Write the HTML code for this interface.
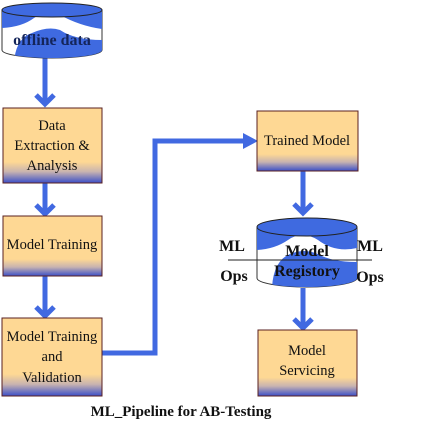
<!DOCTYPE html>
<html><head><style>
html,body{margin:0;padding:0;background:#fff;}
svg{display:block;}
text{font-family:"Liberation Serif",serif;}
</style></head><body>
<svg width="432" height="440" viewBox="0 0 432 440" xmlns="http://www.w3.org/2000/svg">
<defs>
<linearGradient id="bx" x1="0" y1="0" x2="0" y2="1">
<stop offset="0" stop-color="#fed894"/>
<stop offset="0.72" stop-color="#fed894"/>
<stop offset="0.85" stop-color="#c8b3b0"/>
<stop offset="1" stop-color="#3b4fc8"/>
</linearGradient>
<clipPath id="c1"><path d="M2 10 L2 50 A50 8 0 0 0 102 50 L102 10 Z"/></clipPath>
<clipPath id="c2"><path d="M257 228 L257 278 A50 9 0 0 0 357 278 L357 228 Z"/></clipPath>
</defs>
<g fill="none" stroke="#4169e1" stroke-width="5">
<line x1="45" y1="58" x2="45" y2="103"/>
<polyline points="36,95 45,104 54,95"/>
<line x1="45" y1="183" x2="45" y2="213"/>
<polyline points="36,205 45,214 54,205"/>
<line x1="45" y1="276" x2="45" y2="315"/>
<polyline points="36,307 45,316 54,307"/>
<line x1="303" y1="171" x2="303" y2="213"/>
<polyline points="294,204 303,213 312,204"/>
<line x1="303" y1="288" x2="303" y2="328"/>
<polyline points="294,319 303,328 312,319"/>
<polyline points="100,353 155,353 155,141 245,141"/>
</g>
<polygon points="243,133 258,141 243,149" fill="#4169e1"/>
<!-- cylinder 1 -->
<g>
<path d="M2 10 L2 50 A50 8 0 0 0 102 50 L102 10 Z" fill="#fff" stroke="#333" stroke-width="1"/>
<g clip-path="url(#c1)">
<path d="M2 10 L2 28 Q22 27 34 18 Q46 10 60 15 Q80 26 102 29 L102 10 Z" fill="#3f6ae0"/>
<path d="M14 62 Q16 38 32 33 Q48 26 60 30 Q75 40 102 40 L102 62 Z" fill="#3f6ae0"/>
</g>
<ellipse cx="52" cy="10" rx="50" ry="7" fill="#3f6ae0" stroke="#222" stroke-width="1"/>
<text x="52" y="45" text-anchor="middle" font-size="16" font-weight="bold" fill="#14255a">offline data</text>
</g>
<!-- boxes -->
<rect x="3" y="108" width="99" height="75" fill="url(#bx)" stroke="#5a2020"/>
<text text-anchor="middle" font-size="14.5" fill="#111"><tspan x="52" y="130">Data</tspan><tspan x="52" y="150">Extraction &amp;</tspan><tspan x="52" y="170">Analysis</tspan></text>
<rect x="3" y="216" width="99" height="60" fill="url(#bx)" stroke="#5a2020"/>
<text x="52" y="249" text-anchor="middle" font-size="14.5" fill="#111">Model Training</text>
<rect x="2" y="318" width="100" height="78" fill="url(#bx)" stroke="#5a2020"/>
<text text-anchor="middle" font-size="14.5" fill="#111"><tspan x="52" y="341">Model Training</tspan><tspan x="52" y="361">and</tspan><tspan x="52" y="382">Validation</tspan></text>
<rect x="257" y="111" width="101" height="60" fill="url(#bx)" stroke="#5a2020"/>
<text x="307" y="145" text-anchor="middle" font-size="14.5" fill="#111">Trained Model</text>
<rect x="258" y="330" width="99" height="66" fill="url(#bx)" stroke="#5a2020"/>
<text text-anchor="middle" font-size="14.5" fill="#111"><tspan x="307" y="355">Model</tspan><tspan x="307" y="375">Servicing</tspan></text>
<!-- cylinder 2 -->
<g>
<path d="M257 228 L257 278 A50 9 0 0 0 357 278 L357 228 Z" fill="#fff" stroke="#333"/>
<g clip-path="url(#c2)">
<path d="M257 228 L257 250 Q275 249 288 240 Q302 230 318 240 Q335 253 357 248 L357 228 Z" fill="#3f6ae0"/>
<path d="M272 300 Q270 262 290 254 Q304 248 318 254 Q332 262 357 262 L357 300 Z" fill="#3f6ae0"/>
</g>
<ellipse cx="307" cy="227" rx="50" ry="9" fill="#3f6ae0" stroke="#222"/>
</g>
<line x1="228" y1="260" x2="372" y2="260" stroke="#222" stroke-width="1"/>
<g font-size="16" font-weight="bold" fill="#111" text-anchor="middle">
<text x="307" y="256">Model</text>
<text x="307" y="276">Registory</text>
<text x="232" y="251">ML</text>
<text x="234" y="281">Ops</text>
<text x="370" y="251">ML</text>
<text x="370" y="282">Ops</text>
</g>
<text x="181" y="416" text-anchor="middle" font-size="15" font-weight="bold" fill="#111">ML_Pipeline for  AB-Testing</text>
</svg>
</body></html>
